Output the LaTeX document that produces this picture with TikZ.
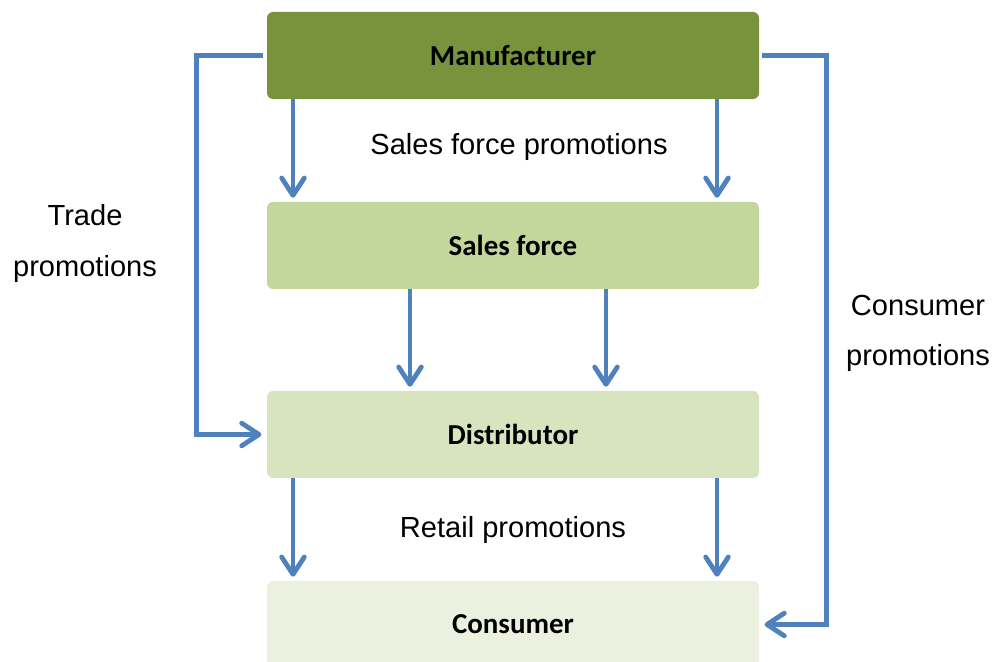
\documentclass[tikz,border=0pt]{standalone}
\usepackage{fontspec}
\setmainfont{Liberation Sans}
\newfontfamily\calibri{Carlito}
\usepackage{xcolor}
\usepackage{tikz}
\usetikzlibrary{arrows.meta}
\definecolor{vertfonce}{HTML}{77933C}
\definecolor{vertmoyen}{HTML}{C3D69B}
\definecolor{vertclair}{HTML}{D7E4BD}
\definecolor{vertpale}{HTML}{EBF1DE}
\definecolor{bleufleche}{HTML}{4F81BD}
\def\largeur{996}
\def\hauteur{661}
\tikzset{
	boite/.style={rounded corners=4.5pt, minimum width=369pt, minimum height=65.25pt, inner sep=0pt, font=\calibri\bfseries\fontsize{21.7}{26}\selectfont},
	fleche/.style={-{Straight Barb[length=13pt,width=17pt,round]}, color=bleufleche, line width=3.6pt},
	etiquette/.style={font=\fontsize{21.8}{38}\selectfont, align=center}
}

\begin{document}
\begin{tikzpicture}[x=0.75pt, y=0.75pt]
	\useasboundingbox (0,0) rectangle (\largeur,\hauteur);
	%\draw[step=50, black!20!white] (0,0) grid (\largeur,\hauteur);
	% les boites
	\node[boite, fill=vertfonce] (manu) at (513,605.5) {Manufacturer};
	\node[boite, fill=vertmoyen] (sales) at (513,415.5) {Sales force};
	\node[boite, fill=vertclair] (dist) at (513,226.5) {Distributor};
	\node[boite, fill=vertpale] (cons) at (513,36.5) {Consumer};
	% colonnes des fleches
	\coordinate (g) at (293,0);
	\coordinate (d) at (717,0);
	\coordinate (gi) at (410,0);
	\coordinate (di) at (606,0);
	\draw[fleche, shorten >=3pt] (manu.south -| g) -- (sales.north -| g);
	\draw[fleche, shorten >=3pt] (manu.south -| d) -- (sales.north -| d);
	\draw[fleche, shorten >=3pt] (sales.south -| gi) -- (dist.north -| gi);
	\draw[fleche, shorten >=3pt] (sales.south -| di) -- (dist.north -| di);
	\draw[fleche, shorten >=3pt] (dist.south -| g) -- (cons.north -| g);
	\draw[fleche, shorten >=3pt] (dist.south -| d) -- (cons.north -| d);
	% fleches laterales
	\draw[fleche, shorten <=3pt, shorten >=4pt] (manu.west) -- ++(-70,0) |- (dist.west);
	\draw[fleche, shorten <=2pt, shorten >=4pt] (manu.east) -- ++(67,0) |- (cons.east);
	% textes
	\node[etiquette] (sfp) at (519,514) {Sales force promotions};
	\node[etiquette] (rp) at (513,131) {Retail promotions};
	\node[etiquette] (tp) at (85,417.5) {Trade\\promotions};
	\node[etiquette] (cp) at (918,327.5) {Consumer\\promotions};
\end{tikzpicture}
\end{document}
